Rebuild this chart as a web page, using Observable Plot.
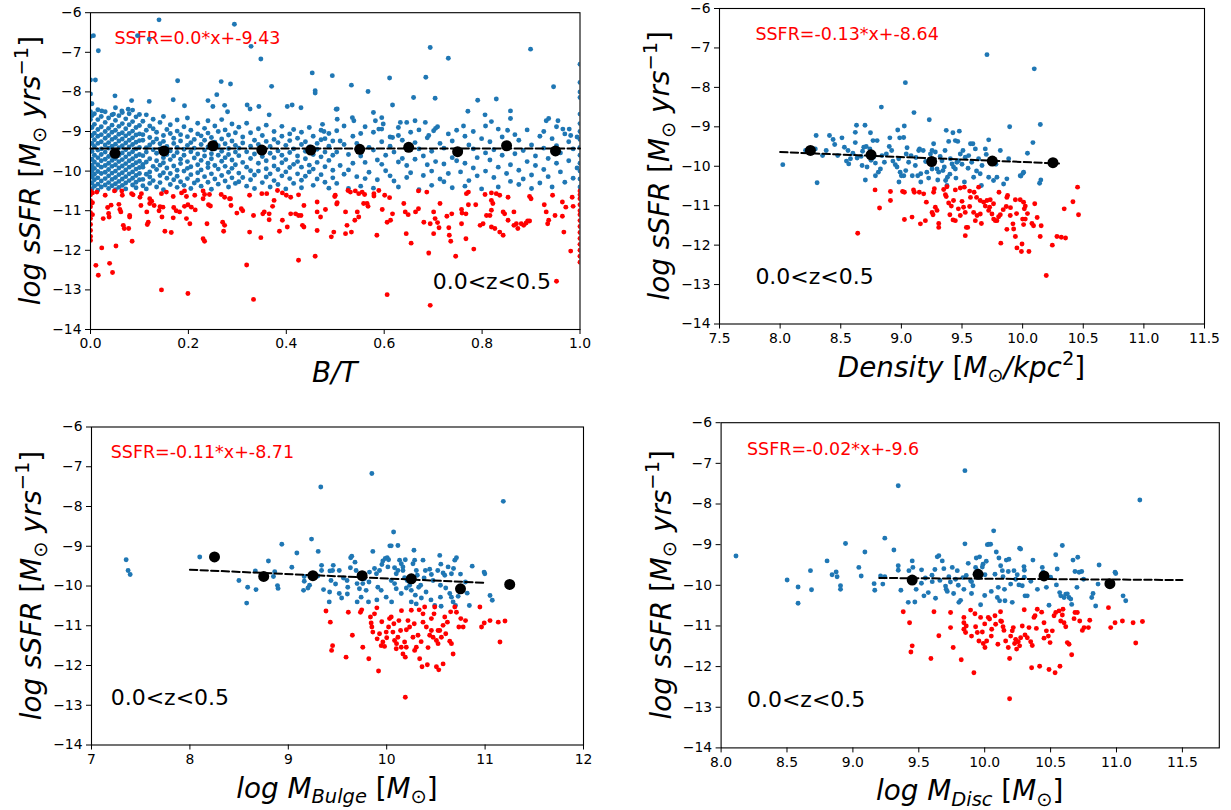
<!DOCTYPE html>
<html><head><meta charset="utf-8">
<script src="https://cdn.jsdelivr.net/npm/d3@7"></script>
<script src="https://cdn.jsdelivr.net/npm/@observablehq/plot@0.6"></script>
<style>
html,body{margin:0;padding:0;background:#fff;}
#root{position:relative;width:1231px;height:810px;overflow:hidden;font-family:"DejaVu Sans",sans-serif;}
.panel{position:absolute;}
#overlay{position:absolute;left:0;top:0;}
</style></head><body><div id="root"></div>
<script>
// ---------------- DATA ----------------
const yTicks = [-14,-13,-12,-11,-10,-9,-8,-7,-6];

// Panel 1 : B/T  (star forming = blue, columns [x, y1, y2, ...])
const bt_sf_cols = [
[0.0,-7.7,-8.05,-8.3,-8.5,-8.7,-8.9,-9.1,-9.3,-9.5,-9.7,-9.9,-10.1,-10.3,-10.45],
[0.003,-8.3,-8.6,-8.9,-9.1,-9.3,-9.5,-9.7,-9.85,-10.0,-10.15,-10.3,-10.45],
[0.008,-8.55,-8.82,-9.04,-9.21,-9.38,-9.6,-9.77,-9.93,-10.08,-10.22,-10.38],
[0.015,-8.45,-8.7,-8.95,-9.12,-9.3,-9.47,-9.66,-9.84,-10.01,-10.17,-10.33,-10.48],
[0.022,-8.62,-8.88,-9.08,-9.26,-9.44,-9.58,-9.74,-9.9,-10.06,-10.25,-10.4],
[0.03,-8.5,-8.77,-9.0,-9.17,-9.34,-9.52,-9.7,-9.86,-10.03,-10.19,-10.35],
[0.037,-8.66,-8.92,-9.1,-9.28,-9.42,-9.63,-9.8,-9.96,-10.12,-10.29,-10.44],
[0.044,-8.58,-8.84,-9.02,-9.2,-9.37,-9.55,-9.73,-9.88,-10.05,-10.21,-10.37],
[0.051,-8.4,-8.72,-8.97,-9.15,-9.32,-9.5,-9.68,-9.84,-10.0,-10.16,-10.32,-10.47],
[0.058,-8.6,-8.87,-9.07,-9.24,-9.41,-9.6,-9.76,-9.92,-10.09,-10.26,-10.41],
[0.065,-8.52,-8.8,-9.03,-9.19,-9.36,-9.54,-9.71,-9.87,-10.04,-10.2,-10.36],
[0.072,-8.68,-8.93,-9.11,-9.29,-9.46,-9.64,-9.81,-9.97,-10.14,-10.3,-10.45],
[0.079,-8.55,-8.83,-9.05,-9.22,-9.39,-9.57,-9.74,-9.9,-10.07,-10.24],
[0.086,-8.46,-8.75,-8.99,-9.16,-9.33,-9.51,-9.69,-9.85,-10.02,-10.18,-10.35],
[0.093,-8.63,-8.9,-9.09,-9.27,-9.44,-9.62,-9.79,-9.95,-10.11,-10.28,-10.42],
[0.1,-8.57,-8.85,-9.06,-9.23,-9.4,-9.58,-9.75,-9.91,-10.06,-10.22],
[0.107,-8.74,-9.08,-9.22,-9.61,-9.83,-9.9,-10.21,-10.37],
[0.114,-8.58,-8.97,-9.41,-9.52,-9.77,-10.08,-10.45],
[0.121,-8.86,-9.15,-9.34,-9.69,-10.02,-10.15,-10.31],
[0.128,-8.69,-8.93,-9.27,-9.46,-9.88,-10.24],
[0.135,-9.02,-9.19,-9.55,-9.74,-9.96,-10.4],
[0.142,-8.77,-9.31,-9.44,-9.85,-10.11,-10.29],
[0.149,-8.62,-9.1,-9.25,-9.66,-9.79,-10.04,-10.47],
[0.156,-8.95,-9.38,-9.58,-9.92,-10.18],
[0.163,-8.83,-9.05,-9.49,-9.71,-10.06,-10.34],
[0.17,-9.17,-9.3,-9.62,-9.87,-10.22],
[0.177,-8.71,-8.99,-9.4,-9.53,-9.98,-10.13,-10.41],
[0.184,-9.08,-9.24,-9.7,-9.81,-10.27],
[0.191,-8.88,-9.45,-9.6,-10.0,-10.36],
[0.198,-8.66,-9.13,-9.35,-9.76,-9.93,-10.19],
[0.205,-8.97,-9.28,-9.51,-9.89,-10.09,-10.44],
[0.212,-9.2,-9.42,-9.67,-10.3],
[0.219,-8.79,-9.06,-9.57,-9.84,-10.04,-10.23],
[0.226,-9.11,-9.33,-9.73,-9.97,-10.38],
[0.233,-8.92,-9.22,-9.47,-9.62,-10.14],
[0.24,-8.73,-9.04,-9.39,-9.8,-9.91,-10.28],
[0.247,-9.15,-9.56,-9.69,-10.07,-10.46],
[0.254,-8.86,-9.27,-9.44,-9.86,-10.2],
[0.261,-9.0,-9.36,-9.6,-9.95,-10.33],
[0.268,-8.7,-9.19,-9.5,-9.75,-10.11],
[0.275,-8.96,-9.31,-9.66,-9.88,-10.25],
[0.282,-9.09,-9.43,-9.58,-10.03,-10.4],
[0.289,-8.81,-9.24,-9.72,-9.93,-10.17],
[0.296,-9.03,-9.35,-9.52,-9.84,-10.31],
[0.303,-8.89,-9.42,-9.61,-10.05,-10.27],
[0.311,-9.14,-9.29,-9.78,-10.16],
[0.319,-8.79,-9.51,-9.9,-10.38],
[0.327,-9.03,-9.37,-9.68,-9.99,-10.22],
[0.335,-9.22,-9.57,-10.1,-10.44],
[0.343,-8.93,-9.33,-9.8,-10.0],
[0.351,-9.1,-9.46,-9.63,-10.29],
[0.359,-8.84,-9.25,-9.74,-9.94,-10.15],
[0.367,-9.38,-9.55,-10.07,-10.4],
[0.375,-9.0,-9.2,-9.66,-9.87,-10.24],
[0.383,-9.28,-9.49,-9.96,-10.34],
[0.391,-8.87,-9.12,-9.6,-9.79,-10.12],
[0.399,-9.35,-9.71,-10.02,-10.45],
[0.407,-9.06,-9.23,-9.53,-9.91,-10.19],
[0.415,-8.95,-9.44,-9.83,-10.31],
[0.423,-9.17,-9.62,-9.76,-10.07],
[0.431,-9.02,-9.33,-9.9,-10.23,-10.42],
[0.439,-9.26,-9.5,-9.69,-10.13],
[0.447,-8.9,-9.39,-9.85,-10.02],
[0.455,-9.12,-9.58,-9.95,-10.36],
[0.463,-9.3,-9.45,-9.78,-10.2],
[0.471,-8.97,-9.21,-9.64,-10.09],
[0.479,-9.18,-9.52,-9.89,-10.28],
[0.487,-9.05,-9.37,-9.73,-10.43],
[0.495,-9.24,-9.6,-9.98,-10.17],
[0.503,-8.98,-9.52,-10.31],
[0.51,-9.24,-9.86],
[0.518,-8.86,-9.33,-10.08],
[0.527,-9.58,-9.97,-10.44],
[0.536,-9.12,-9.8],
[0.544,-9.3,-10.14],
[0.552,-9.05,-9.62,-10.38],
[0.561,-8.88,-9.78,-10.19],
[0.569,-9.4,-10.03],
[0.578,-9.02,-9.47,-10.43],
[0.586,-9.72,-10.22],
[0.595,-8.94,-9.26,-9.83],
[0.603,-9.6,-9.99],
[0.612,-9.14,-9.37,-10.12],
[0.62,-9.52,-10.25],
[0.629,-8.9,-9.77,-10.4],
[0.637,-9.22,-9.68],
[0.646,-9.35,-9.86,-10.16],
[0.654,-9.02,-10.04],
[0.663,-9.28,-9.7],
[0.671,-8.96,-9.44,-10.47],
[0.68,-9.62,-10.11],
[0.688,-9.16,-9.84],
[0.697,-9.5,-10.0,-10.36],
[0.705,-8.92,-9.76],
[0.714,-9.3,-10.2],
[0.722,-9.42,-9.82,-10.27],
[0.731,-9.06,-10.06],
[0.739,-9.24,-9.66,-10.42],
[0.748,-8.97,-9.74],
[0.756,-9.48,-10.02],
[0.765,-9.12,-9.8,-10.38],
[0.773,-9.34,-10.24],
[0.782,-9.0,-9.44,-9.92],
[0.79,-9.66,-10.12],
[0.799,-9.18,-10.45],
[0.807,-8.86,-9.54,-10.0],
[0.816,-9.26,-9.72],
[0.824,-9.46,-10.16],
[0.833,-8.94,-9.9,-10.4],
[0.841,-9.14,-9.6],
[0.85,-9.4,-10.06],
[0.858,-9.84,-10.26],
[0.867,-9.08,-9.56],
[0.875,-9.22,-9.98,-10.34],
[0.884,-9.48,-10.2],
[0.892,-8.96,-9.76],
[0.901,-9.34,-10.1,-10.44],
[0.909,-9.62,-9.86],
[0.918,-9.12,-10.3],
[0.926,-9.0,-9.42,-9.96],
[0.935,-9.68,-10.14],
[0.943,-9.18,-10.4],
[0.952,-8.88,-9.36,-9.8],
[0.96,-9.54,-10.02],
[0.969,-9.06,-10.28],
[0.977,-9.26,-9.74],
[0.986,-9.44,-10.18],
[0.994,-9.14,-9.92],
[1.0,-7.3,-7.76,-8.0,-8.14,-8.56,-8.8,-9.0,-9.2,-9.4,-9.6,-9.8,-10.0,-10.2,-10.4]
];
const bt_sf_pts = [
[0.0,-6.6],[0.006,-6.58],[0.016,-6.96],[0.14,-6.18],[0.096,-6.58],[0.12,-6.67],[0.294,-6.29],[0.328,-6.85],[0.348,-7.17],[0.01,-7.7],[0.178,-7.72],[0.267,-7.74],[0.286,-7.8],[0.37,-7.86],[0.453,-7.52],[0.459,-7.97],[0.459,-8.03],[0.05,-8.1],[0.084,-8.22],[0.12,-8.24],[0.169,-8.2],[0.192,-8.35],[0.24,-8.22],[0.258,-8.07],[0.25,-8.37],[0.274,-8.34],[0.28,-8.5],[0.32,-8.33],[0.326,-8.43],[0.344,-8.37],[0.365,-8.58],[0.402,-8.37],[0.412,-8.33],[0.43,-8.4],[0.474,-8.82],[0.477,-9.0],[0.502,-8.44],[0.023,-8.48],[0.047,-8.56],[0.064,-8.48],[0.077,-8.44],
[0.494,-7.59],[0.504,-8.43],[0.533,-7.83],[0.567,-7.99],[0.578,-8.52],[0.595,-8.65],[0.598,-8.81],[0.611,-7.65],[0.617,-8.33],[0.633,-8.77],[0.646,-8.77],[0.66,-8.14],[0.663,-8.73],[0.685,-7.63],[0.694,-6.88],[0.704,-8.16],[0.709,-8.88],[0.731,-7.15],[0.762,-8.86],[0.771,-8.49],[0.791,-8.21],[0.806,-8.58],[0.819,-8.75],[0.829,-8.18],[0.852,-8.97],[0.858,-8.48],[0.858,-8.67],[0.899,-6.92],[0.931,-8.73],[0.936,-8.67],[0.946,-7.87],[0.955,-8.73],[0.965,-8.94],[0.978,-8.94],[0.981,-9.1],[0.535,-8.65],[0.538,-8.73],[0.504,-8.69],[0.582,-8.73],[0.589,-8.94],[0.617,-9.15],[0.629,-9.1],[0.684,-8.77],[0.691,-9.1],[0.701,-8.98]
];
const bt_q = [
[0.0,-10.5],[0.0,-10.6],[0.0,-10.75],[0.0,-10.9],[0.0,-11.05],[0.0,-11.2],[0.0,-11.35],[0.0,-11.5],[0.0,-11.65],[0.0,-11.75],[0.004,-10.55],[0.004,-10.8],[0.004,-11.1],
[0.013,-10.53],[0.03,-10.61],[0.049,-10.5],[0.064,-10.5],[0.065,-10.61],[0.084,-10.57],[0.087,-10.6],[0.101,-10.66],[0.104,-10.57],[0.121,-10.7],[0.125,-10.76],[0.145,-10.57],[0.155,-10.53],[0.169,-10.64],[0.186,-10.55],[0.192,-10.5],[0.196,-10.64],[0.213,-10.61],[0.23,-10.5],[0.233,-10.59],[0.243,-10.59],[0.23,-10.7],[0.267,-10.59],[0.274,-10.66],[0.284,-10.7],[0.325,-10.61],[0.36,-10.57],[0.382,-10.49],[0.392,-10.55],[0.409,-10.66],[0.425,-10.6],[0.463,-10.78],[0.499,-10.64],[0.503,-10.83],
[0.035,-10.92],[0.042,-10.86],[0.058,-10.84],[0.06,-10.97],[0.062,-11.03],[0.037,-11.07],[0.038,-11.16],[0.026,-11.2],[0.067,-11.37],[0.069,-11.45],[0.078,-11.45],[0.08,-11.12],[0.08,-11.16],[0.103,-10.87],[0.121,-10.82],[0.13,-10.87],[0.142,-10.9],[0.148,-10.91],[0.115,-11.03],[0.118,-11.29],[0.116,-11.35],[0.14,-11.0],[0.146,-11.16],[0.152,-11.52],[0.165,-11.55],[0.17,-10.92],[0.175,-11.0],[0.182,-11.03],[0.169,-11.18],[0.192,-10.89],[0.199,-10.85],[0.206,-10.91],[0.196,-11.2],[0.203,-11.33],[0.214,-10.98],[0.23,-11.71],[0.233,-11.77],[0.238,-11.33],[0.241,-10.85],[0.245,-10.88],[0.27,-11.29],[0.274,-11.37],[0.272,-11.52],[0.287,-10.87],[0.286,-10.7],[0.299,-11.06],[0.308,-10.95],[0.311,-11.0],[0.325,-11.54],[0.333,-11.12],[0.348,-11.68],[0.352,-11.08],[0.355,-11.03],[0.365,-11.08],[0.365,-11.23],[0.372,-10.89],[0.375,-10.74],[0.392,-11.24],[0.402,-11.41],[0.409,-11.08],[0.419,-11.08],[0.425,-11.12],[0.43,-11.12],[0.433,-11.37],[0.436,-11.41],[0.436,-10.87],[0.463,-11.03],[0.47,-11.16],[0.463,-11.5],[0.48,-10.97],[0.492,-11.66],[0.497,-11.54],[0.4,-10.61],[0.386,-11.52],[0.35,-10.57],
[0.023,-11.94],[0.011,-12.38],[0.016,-12.63],[0.039,-12.33],[0.045,-12.56],[0.052,-11.89],[0.085,-11.77],[0.145,-13.0],[0.199,-13.09],[0.319,-12.37],[0.333,-13.24],[0.425,-12.25],[0.459,-12.15],
[0.5,-10.61],[0.504,-10.8],[0.521,-11.03],[0.524,-11.37],[0.521,-11.58],[0.533,-11.54],[0.526,-10.49],[0.531,-10.53],[0.541,-10.5],[0.548,-10.57],[0.54,-11.24],[0.545,-11.03],[0.548,-11.16],[0.555,-10.53],[0.56,-10.59],[0.558,-10.82],[0.565,-10.82],[0.567,-10.89],[0.579,-10.57],[0.579,-10.63],[0.585,-11.62],[0.589,-10.49],[0.596,-10.97],[0.601,-10.61],[0.606,-11.29],[0.611,-10.67],[0.613,-11.24],[0.617,-11.08],[0.606,-13.12],[0.64,-10.82],[0.643,-11.03],[0.645,-11.58],[0.649,-11.1],[0.655,-11.82],[0.664,-11.03],[0.67,-10.95],[0.67,-10.5],[0.687,-10.53],[0.681,-11.29],[0.691,-12.07],[0.694,-11.33],[0.694,-13.39],[0.701,-11.03],[0.704,-11.2],[0.709,-11.3],[0.712,-11.43],[0.701,-11.58],[0.714,-10.82],[0.728,-11.14],[0.732,-11.43],[0.733,-11.62],[0.736,-11.77],[0.738,-11.08],[0.746,-12.15],[0.758,-10.97],[0.759,-11.06],[0.758,-11.33],[0.767,-11.71],[0.767,-11.08],[0.768,-10.57],[0.772,-10.53],[0.772,-10.85],[0.787,-10.85],[0.783,-11.97],[0.796,-11.37],[0.802,-11.33],[0.806,-10.59],[0.809,-11.12],[0.816,-11.12],[0.819,-10.55],[0.819,-10.74],[0.819,-10.99],[0.822,-10.82],[0.819,-11.41],[0.826,-11.45],[0.829,-10.57],[0.836,-10.61],[0.836,-11.54],[0.843,-11.62],[0.843,-11.03],[0.853,-10.66],[0.846,-11.08],[0.853,-11.24],[0.865,-11.37],[0.87,-11.33],[0.873,-11.45],[0.88,-11.33],[0.885,-11.37],[0.89,-11.31],[0.893,-11.26],[0.897,-11.26],[0.865,-11.03],[0.897,-10.64],[0.9,-10.7],[0.927,-10.85],[0.931,-11.03],[0.934,-11.33],[0.936,-11.24],[0.944,-10.61],[0.949,-11.12],[0.952,-12.78],[0.964,-10.78],[0.964,-11.14],[0.967,-11.54],[0.971,-10.91],[0.981,-12.02],[0.984,-10.66],[0.986,-10.89],
[1.0,-10.5],[1.0,-10.6],[1.0,-10.7],[1.0,-10.85],[1.0,-11.0],[1.0,-11.1],[1.0,-11.25],[1.0,-11.4],[1.0,-11.55],[1.0,-11.7],[1.0,-11.85],[1.0,-12.0],[1.0,-12.15],[1.0,-12.3]
];
const bt_binX = [0.05,0.15,0.25,0.35,0.45,0.55,0.65,0.75,0.85,0.95];
const bt_binY = [-9.55,-9.49,-9.36,-9.47,-9.47,-9.45,-9.40,-9.51,-9.36,-9.49];
const bt_fitX = [0.0,1.0];
const bt_fitY = [-9.43,-9.43];

// Panel 2 : Density
const dens_sf = [
[9.706,-7.17],[10.096,-7.53],[9.033,-7.88],[8.835,-8.5],[9.104,-8.64],[9.23,-8.82],[8.63,-8.96],[8.70,-8.96],[8.297,-9.22],[8.407,-9.22],[8.437,-9.32],[8.51,-9.28],[8.62,-9.14],[8.745,-9.15],[8.97,-9.08],[9.024,-8.98],[8.905,-9.28],[8.986,-9.28],[9.019,-9.27],[9.37,-9.09],[9.425,-9.15],[9.478,-9.11],[9.39,-9.37],[9.445,-9.35],[9.465,-9.37],[9.57,-9.43],[9.72,-9.33],[9.893,-9.0],[10.146,-8.94],[10.085,-9.4],[10.04,-9.67],[10.003,-10.18],[9.986,-10.25],[10.14,-10.43],[10.15,-10.35],[9.885,-9.81],[8.022,-9.96],[8.305,-10.42],[8.21,-9.6],[8.29,-9.56],[8.35,-9.73],[8.38,-9.6],[8.475,-9.73],
[8.53,-9.52],[8.547,-9.87],[8.566,-9.94],[8.58,-9.81],[8.60,-9.67],[8.635,-9.79],[8.668,-9.75],[8.676,-9.98],[8.69,-9.52],[8.71,-9.5],[8.717,-10.02],[8.74,-9.56],[8.766,-9.35],[8.80,-9.35],[8.703,-10.35],[8.786,-10.24],[8.81,-10.15],[8.827,-10.07],[8.77,-9.77],[8.786,-9.92],[8.84,-9.73],
[8.876,-9.69],[8.9,-9.5],[8.93,-9.87],[8.95,-9.96],[8.964,-10.02],[8.978,-9.81],[8.99,-10.15],[9.0,-10.24],[9.02,-10.24],[9.036,-10.11],[9.04,-9.69],[9.047,-9.53],[9.08,-9.73],[9.09,-10.24],[9.115,-9.98],[9.135,-10.24],[9.143,-9.6],[9.15,-9.56],[9.18,-9.6],[9.16,-10.19],
[9.21,-10.15],[9.225,-10.3],[9.24,-9.69],[9.253,-9.6],[9.266,-9.43],[9.28,-9.64],[9.253,-10.07],[9.294,-10.07],[9.308,-10.15],[9.335,-9.86],[9.343,-10.11],[9.354,-10.02],[9.365,-10.36],[9.376,-10.49],[9.38,-10.28],
[9.404,-9.81],[9.418,-9.94],[9.43,-10.02],[9.445,-10.07],[9.458,-9.9],[9.47,-9.86],[9.486,-9.69],[9.508,-9.6],[9.527,-9.77],[9.555,-9.73],[9.59,-9.43],[9.61,-9.56],[9.637,-9.81],[9.65,-10.19],[9.665,-9.98],[9.692,-9.56],[9.733,-9.87],[9.76,-10.36],[9.788,-10.28],[9.816,-9.6],[9.843,-10.45],[9.87,-10.32],[9.98,-10.24],[10.008,-10.15],[9.72,-10.28],[9.66,-10.49],[9.596,-10.28],
[8.45,-9.45],[8.56,-9.6],[8.62,-9.4],[8.68,-9.62],[8.75,-9.85],[8.86,-9.9],[8.92,-9.6],[9.06,-9.9],[9.12,-9.78],[9.2,-9.88],[9.32,-9.75],[9.36,-9.6],[9.5,-9.95],[9.55,-10.05],[9.58,-9.9],[9.7,-9.7],[9.62,-10.12],[9.4,-10.2],[9.3,-10.35],[9.16,-10.4],[8.98,-10.4],[9.52,-10.4],[9.78,-9.95],[9.45,-10.3]
];
const dens_q = [
[8.64,-11.7],[8.783,-10.6],[8.82,-11.06],[8.91,-10.64],[8.91,-10.87],[9.01,-10.64],[9.025,-10.66],[9.025,-11.35],[9.088,-11.29],[9.1,-10.6],[9.107,-10.66],[9.148,-10.66],[9.184,-10.7],[9.157,-11.46],[9.198,-11.38],[9.206,-10.91],[9.253,-11.17],[9.261,-11.23],[9.266,-10.66],[9.272,-10.57],[9.28,-11.04],[9.308,-11.45],[9.308,-11.55],[9.294,-11.12],[9.349,-10.59],[9.363,-10.72],[9.37,-10.77],[9.376,-10.52],[9.39,-10.93],[9.412,-11.01],[9.426,-11.36],[9.445,-11.38],[9.445,-10.6],[9.486,-10.55],[9.5,-10.89],[9.519,-10.53],[9.527,-11.17],[9.536,-11.55],[9.547,-11.55],[9.563,-10.63],[9.563,-11.02],[9.527,-11.76],[9.596,-11.17],[9.61,-11.38],[9.624,-11.25],[9.651,-11.21],[9.66,-11.45],[9.637,-10.53],[9.679,-10.91],[9.692,-11.01],[9.706,-10.87],[9.733,-10.85],[9.728,-11.04],[9.747,-11.21],[9.761,-11.34],[9.775,-11.38],[9.788,-11.38],[9.802,-11.28],[9.816,-11.23],[9.805,-10.66],[9.87,-10.79],[9.876,-10.74],[9.82,-11.95],[9.87,-11.6],[9.865,-11.02],[9.898,-11.25],[9.92,-11.46],[9.926,-11.59],[9.94,-10.85],[9.98,-10.85],[10.008,-10.91],[10.022,-11.01],[10.014,-11.08],[10.0,-11.34],[10.022,-11.34],[10.008,-11.48],[9.94,-11.78],[9.953,-12.07],[9.995,-11.97],[9.99,-12.16],[10.052,-12.16],[10.077,-11.45],[10.09,-11.51],[10.153,-11.51],[10.145,-11.78],[10.245,-12.0],[10.195,-12.77],[10.283,-11.78],[10.319,-11.8],[10.354,-11.82],[10.343,-11.08],[10.415,-10.9],[10.453,-10.53],[10.461,-11.23],[9.4,-11.23],[9.43,-10.87],[9.47,-11.08],[9.486,-11.25],[9.513,-11.04],[9.6,-10.66],[9.57,-10.79],[9.62,-10.79],[9.65,-10.87],[9.72,-11.12],[9.76,-10.95],[9.84,-11.1],[9.9,-11.05],[9.95,-11.2],[10.04,-11.2],[10.1,-10.95],[10.12,-11.3]
];
const dens_binX = [8.25,8.75,9.25,9.75,10.25];
const dens_binY = [-9.60,-9.71,-9.88,-9.87,-9.91];
const dens_fitX = [8.0,10.3];
const dens_fitY = [-9.64,-9.93];

// Panel 3 : Bulge mass
const bulge_sf = [
[7.352,-9.34],[7.372,-9.61],[7.393,-9.71],[8.1,-9.27],[8.498,-9.86],[8.577,-10.43],[8.587,-10.03],[8.672,-10.09],[8.665,-9.62],[8.798,-9.37],[8.862,-9.64],[8.89,-9.99],[8.896,-10.06],[8.849,-9.76],[8.934,-8.95],[9.036,-9.53],[9.087,-9.17],[9.162,-9.88],[9.155,-10.11],[9.216,-9.98],[9.162,-9.76],[9.236,-8.82],[9.304,-9.13],[9.338,-9.48],[9.338,-9.61],[9.358,-10.09],[9.416,-10.4],[9.434,-9.86],[9.423,-9.62],[9.45,-9.61],[9.518,-9.61],[9.457,-9.48],[9.518,-10.19],[9.542,-10.3],[9.604,-10.03],[9.597,-9.86],[9.631,-9.54],[9.634,-9.29],[9.645,-9.25],[9.678,-9.4],[9.689,-9.61],[9.699,-9.94],[9.723,-10.07],[9.74,-10.28],[9.757,-9.94],[9.774,-9.82],[9.791,-10.11],[9.815,-10.4],[9.825,-9.65],[9.849,-7.17],[9.859,-9.13],[9.876,-9.56],[9.896,-9.69],[9.91,-10.03],[9.927,-9.61],[9.951,-9.46],[9.961,-9.37],[9.985,-9.31],[10.005,-9.29],[10.012,-9.52],[10.019,-9.34],[10.032,-8.99],[10.046,-8.99],[10.07,-8.64],[10.08,-9.54],[10.097,-9.69],[10.114,-9.61],[10.08,-9.94],[10.097,-10.07],[10.046,-9.86],[10.114,-8.98],[10.131,-9.35],[10.148,-9.44],[10.165,-9.52],[10.165,-9.61],[10.182,-9.79],[10.189,-9.34],[10.209,-9.86],[10.233,-9.98],[10.25,-10.11],[10.267,-9.44],[10.277,-9.1],[10.284,-9.35],[10.291,-10.23],[10.301,-9.61],[10.311,-9.73],[10.325,-10.03],[10.345,-9.98],[10.369,-9.35],[10.393,-9.61],[10.437,-9.58],[10.454,-9.71],[10.471,-9.86],[10.539,-9.23],[10.573,-9.67],[10.546,-9.98],[10.59,-9.73],[10.624,-9.52],[10.658,-9.69],[10.679,-9.56],[10.692,-9.35],[10.709,-9.29],[10.641,-10.19],[10.658,-10.28],[10.675,-10.4],[10.699,-10.49],[10.726,-10.26],[10.519,-9.61],[10.546,-10.28],[10.553,-10.51],[10.488,-10.49],[10.352,-10.3],[10.25,-10.4],[10.148,-10.19],[9.995,-10.28],[9.944,-10.11],[10.818,-10.18],[10.84,-10.49],[10.869,-9.5],[10.99,-9.65],[10.997,-9.69],[11.05,-10.24],[11.073,-10.36],[11.185,-7.87],[9.33,-7.51],
[9.3,-9.75],[9.48,-9.95],[9.56,-9.8],[9.6,-10.2],[9.7,-10.4],[9.9,-10.35],[10.05,-10.4],[10.2,-10.05],[10.4,-10.15],[10.45,-10.35],[10.6,-10.05],[10.8,-9.9],[9.82,-9.9],[10.38,-9.8],[10.55,-9.45],[10.75,-9.7],[9.2,-10.05],[9.42,-10.15],[10.3,-10.45]
];
const bulge_q = [
[9.383,-10.63],[9.427,-10.91],[9.45,-11.5],[9.44,-11.62],[9.587,-11.79],[9.61,-10.66],[9.651,-11.24],[9.733,-10.66],[9.746,-10.6],[9.757,-11.54],[9.818,-11.83],[9.835,-10.78],[9.842,-10.93],[9.849,-11.03],[9.859,-11.16],[9.876,-10.7],[9.903,-11.33],[9.917,-12.14],[9.927,-11.2],[9.944,-11.5],[9.961,-11.41],[9.978,-11.52],[9.995,-11.16],[10.019,-11.03],[10.029,-10.82],[10.046,-10.78],[10.063,-11.16],[10.073,-10.95],[10.08,-11.37],[10.097,-11.58],[10.114,-11.29],[10.124,-10.87],[10.141,-11.12],[10.148,-11.54],[10.165,-11.71],[10.182,-11.41],[10.189,-11.79],[10.199,-11.54],[10.189,-12.8],[10.216,-10.87],[10.233,-11.03],[10.25,-10.61],[10.267,-11.29],[10.284,-11.62],[10.301,-11.54],[10.318,-11.24],[10.335,-11.83],[10.359,-12.03],[10.413,-11.98],[10.369,-10.7],[10.386,-10.53],[10.403,-11.03],[10.437,-11.24],[10.454,-11.12],[10.471,-11.29],[10.481,-10.7],[10.488,-10.53],[10.505,-11.37],[10.522,-11.45],[10.539,-11.12],[10.556,-11.29],[10.573,-10.99],[10.59,-10.78],[10.617,-10.91],[10.641,-11.39],[10.658,-11.45],[10.675,-11.71],[10.692,-10.53],[10.709,-10.66],[10.733,-11.03],[10.753,-10.82],[10.777,-11.03],[10.801,-10.87],[10.505,-12.03],[10.529,-12.11],[10.573,-11.96],[10.522,-11.12],[10.454,-10.82],[10.369,-10.91],[10.947,-10.53],[10.964,-11.03],[10.991,-10.93],[11.05,-10.87],[11.134,-10.91],[11.202,-10.88],[11.151,-11.41],
[9.95,-10.9],[10.0,-11.3],[10.1,-11.45],[10.2,-11.1],[10.28,-10.95],[10.35,-11.4],[10.42,-11.55],[10.6,-11.2],[10.65,-10.65],[10.15,-10.62],[9.9,-10.55],[10.33,-10.6]
];
const bulge_binX = [8.25,8.75,9.25,9.75,10.25,10.75,11.25];
const bulge_binY = [-9.27,-9.76,-9.74,-9.74,-9.82,-10.07,-9.96];
const bulge_fitX = [8.0,11.0];
const bulge_fitY = [-9.59,-9.92];

// Panel 4 : Disc mass
const disc_sf = [
[8.113,-9.28],[8.501,-9.87],[8.584,-10.04],[8.584,-10.44],[8.678,-9.64],[8.686,-10.11],[8.804,-9.4],[8.842,-9.74],[8.873,-9.67],[8.88,-9.79],[8.906,-10.01],[8.906,-10.1],[8.944,-8.97],[9.045,-9.56],[9.063,-9.77],[9.091,-9.18],[9.161,-9.96],[9.166,-10.12],[9.21,-9.77],[9.227,-9.97],[9.242,-9.79],[9.242,-8.84],[9.311,-9.13],[9.344,-7.55],[9.344,-9.52],[9.344,-9.63],[9.364,-10.12],[9.42,-10.42],[9.425,-9.64],[9.45,-9.4],[9.455,-9.56],[9.47,-10.41],[9.521,-9.62],[9.539,-10.26],[9.572,-10.18],[9.602,-9.91],[9.622,-9.61],[9.627,-10.32],[9.64,-9.3],[9.652,-9.27],[9.678,-9.4],[9.69,-9.59],[9.703,-10.02],[9.708,-10.1],[9.716,-10.15],[9.728,-9.79],[9.754,-9.56],[9.764,-10.2],[9.779,-9.85],[9.792,-9.64],[9.804,-10.42],[9.817,-10.37],[9.835,-9.81],[9.842,-10.1],[9.85,-8.98],[9.86,-9.76],[9.875,-9.46],[9.893,-9.89],[9.9,-9.91],[9.911,-10.01],[9.85,-7.18],[9.931,-9.56],[9.936,-9.33],[9.944,-9.64],[9.961,-9.3],[9.969,-10.48],[9.982,-9.55],[9.987,-9.48],[10.002,-9.74],[10.012,-9.41],[10.02,-9.0],[10.032,-8.99],[10.045,-8.99],[10.068,-8.66],[10.078,-9.73],[10.088,-9.18],[10.096,-10.3],[10.103,-10.05],[10.108,-9.33],[10.113,-10.38],[10.121,-9.52],[10.134,-9.64],[10.139,-9.79],[10.154,-10.38],[10.164,-9.38],[10.179,-9.66],[10.184,-9.36],[10.197,-9.97],[10.209,-10.42],[10.222,-9.64],[10.235,-9.85],[10.247,-9.74],[10.26,-9.99],[10.265,-9.09],[10.273,-9.11],[10.285,-10.01],[10.298,-9.54],[10.301,-9.63],[10.306,-10.26],[10.323,-10.26],[10.366,-9.38],[10.437,-9.56],[10.442,-9.68],[10.468,-10.05],[10.539,-9.25],[10.544,-9.99],[10.569,-10.18],[10.577,-10.26],[10.589,-9.02],[10.602,-10.3],[10.615,-10.22],[10.627,-10.21],[10.64,-10.3],[10.653,-10.34],[10.66,-10.47],[10.67,-9.38],[10.685,-9.66],[10.706,-9.31],[10.716,-9.68],[10.736,-9.66],[10.812,-10.3],[10.822,-10.2],[10.842,-10.51],[10.86,-9.97],[10.868,-9.5],[10.989,-9.68],[10.994,-9.71],[11.05,-10.26],[11.07,-10.38],[11.177,-7.9],[10.488,-10.49],
[9.6,-9.75],[9.66,-9.88],[9.74,-9.92],[9.8,-10.0],[9.52,-9.95],[9.48,-10.1],[9.55,-9.82],[10.05,-10.15],[10.15,-10.1],[10.35,-9.9],[10.4,-10.1],[10.5,-9.8],[10.55,-9.6],[10.7,-10.05],[10.75,-9.85],[10.3,-9.8],[10.0,-10.25],[9.9,-10.2]
];
const disc_q = [
[9.382,-10.65],[9.43,-10.92],[9.45,-11.49],[9.44,-11.64],[9.592,-11.8],[9.615,-10.65],[9.652,-11.24],[9.741,-10.67],[9.741,-11.04],[9.761,-11.53],[9.822,-11.83],[9.842,-10.79],[9.842,-10.92],[9.842,-11.08],[9.855,-11.16],[9.86,-11.0],[9.893,-10.61],[9.926,-10.7],[9.931,-11.02],[9.944,-11.16],[9.956,-11.37],[9.969,-10.79],[9.982,-11.15],[9.989,-11.43],[10.002,-11.53],[10.015,-11.37],[10.027,-10.79],[10.037,-10.83],[10.053,-11.08],[10.078,-10.75],[10.083,-10.96],[9.918,-12.15],[10.121,-10.88],[10.128,-10.89],[10.139,-11.02],[10.146,-11.11],[10.159,-11.37],[10.179,-11.53],[10.189,-11.8],[10.197,-11.25],[10.209,-11.12],[10.217,-11.04],[10.227,-11.43],[10.235,-11.33],[10.242,-11.57],[10.255,-11.39],[10.265,-11.49],[10.273,-11.29],[10.285,-11.0],[10.306,-11.22],[10.323,-11.29],[10.336,-11.04],[10.349,-11.39],[10.361,-11.48],[10.374,-10.79],[10.382,-10.75],[10.392,-11.06],[10.189,-12.79],[10.356,-12.03],[10.417,-11.99],[10.488,-12.07],[10.534,-12.15],[10.571,-11.99],[10.399,-10.59],[10.432,-10.66],[10.45,-10.92],[10.468,-11.12],[10.483,-11.25],[10.496,-11.41],[10.513,-11.12],[10.526,-10.75],[10.539,-10.67],[10.564,-10.63],[10.577,-10.88],[10.589,-10.73],[10.594,-10.59],[10.602,-10.92],[10.615,-11.02],[10.627,-11.41],[10.64,-11.45],[10.66,-11.71],[10.678,-10.82],[10.685,-10.67],[10.703,-10.67],[10.721,-10.88],[10.741,-11.11],[10.754,-11.04],[10.787,-11.04],[10.797,-10.86],[10.939,-10.55],[10.956,-11.04],[10.989,-10.92],[11.045,-10.88],[11.126,-10.92],[11.197,-10.89],[11.146,-11.42],
[10.05,-11.25],[10.1,-11.45],[10.12,-10.65],[10.3,-10.6],[10.45,-11.3],[9.9,-11.25],[10.0,-10.95]
];
const disc_binX = [9.45,9.95,10.45,10.95];
const disc_binY = [-9.87,-9.73,-9.77,-9.96];
const disc_fitX = [9.2,11.5];
const disc_fitY = [-9.82,-9.87];

// Texts
const eqTexts = ["SSFR=0.0*x+-9.43","SSFR=-0.13*x+-8.64","SSFR=-0.11*x+-8.71","SSFR=-0.02*x+-9.6"];
const zText = "0.0<z<0.5";
const yLabelParts = [["log sSFR ","i"],["[","n"],["M","i"],["\u2299","sub"],[" yrs","i"],["\u22121","sup"],["]","n"]];
const xLabelParts = [
  [["B/T","i"]],
  [["Density ","i"],["[","n"],["M","i"],["\u2299","sub"],["/kpc","i"],["2","sup"],["]","n"]],
  [["log M","i"],["Bulge","subi"],[" [","n"],["M","i"],["\u2299","sub"],["]","n"]],
  [["log M","i"],["Disc","subi"],[" [","n"],["M","i"],["\u2299","sub"],["]","n"]]
];

// ---------------- BUILD ----------------
function expandCols(cols){const out=[];for(const c of cols){for(let i=1;i<c.length;i++)out.push([c[0],c[i]]);}return out;}
const zip=(xs,ys)=>xs.map((x,i)=>[x,ys[i]]);

const panels = [
  {left:0,top:0,w:600,h:400,m:[12.2,20.5,71,90],xdom:[0,1],xticks:[0,0.2,0.4,0.6,0.8,1.0],xfmt:".1f",
   sf:expandCols(bt_sf_cols).concat(bt_sf_pts),q:bt_q,bins:zip(bt_binX,bt_binY),fit:zip(bt_fitX,bt_fitY),eqX:0.05,zX:0.7},
  {left:615,top:0,w:616,h:400,m:[8,27,76.5,104],xdom:[7.5,11.5],xticks:[7.5,8,8.5,9,9.5,10,10.5,11,11.5],xfmt:".1f",
   sf:dens_sf,q:dens_q,bins:zip(dens_binX,dens_binY),fit:zip(dens_fitX,dens_fitY),eqX:7.8,zX:7.8},
  {left:0,top:400,w:600,h:410,m:[26.5,17,65.5,91],xdom:[7,12],xticks:[7,8,9,10,11,12],xfmt:"d",
   sf:bulge_sf,q:bulge_q,bins:zip(bulge_binX,bulge_binY),fit:zip(bulge_fitX,bulge_fitY),eqX:7.2,zX:7.2},
  {left:615,top:400,w:616,h:410,m:[22.2,12.2,62.6,105.6],xdom:[8,11.78],xticks:[8,8.5,9,9.5,10,10.5,11,11.5],xfmt:".1f",
   sf:disc_sf,q:disc_q,bins:zip(disc_binX,disc_binY),fit:zip(disc_fitX,disc_fitY),eqX:8.2,zX:8.2}
];

const root = document.getElementById("root");
const overlay = d3.select(root).append("svg").attr("id","overlay").attr("width",1231).attr("height",810)
  .style("font-family","'DejaVu Sans', sans-serif");

function richText(g, parts, fs){
  const t = g.append("text").attr("font-size",fs).attr("fill","black");
  let shift = 0;
  for(const [s,k] of parts){
    const ts = t.append("tspan").text(s);
    let target = 0, size = fs, italic = false;
    if(k==="i"){italic=true;}
    else if(k==="sub"){target = fs*0.2; size = fs*0.7;}
    else if(k==="subi"){target = fs*0.2; size = fs*0.7; italic=true;}
    else if(k==="sup"){target = -fs*0.42; size = fs*0.7;}
    ts.attr("font-size",size).attr("font-style",italic?"italic":"normal");
    if(target!==shift){ts.attr("dy",target-shift); shift = target;}
  }
  return t;
}

panels.forEach((p,i)=>{
  const [mt,mr,mb,ml] = p.m;
  const fmt = d3.format(p.xfmt);
  const chart = Plot.plot({
    width:p.w, height:p.h, marginTop:mt, marginRight:mr, marginBottom:mb, marginLeft:ml,
    x:{domain:p.xdom}, y:{domain:[-14,-6]},
    style:{fontFamily:"'DejaVu Sans', sans-serif", fontSize:"13.9px", background:"transparent", overflow:"visible", color:"black"},
    marks:[
      Plot.dot(p.sf,{x:d=>d[0],y:d=>d[1],r:2.45,fill:"#1f77b4",clip:true}),
      Plot.dot(p.q,{x:d=>d[0],y:d=>d[1],r:2.45,fill:"#ff0000",clip:true}),
      Plot.line(p.fit,{x:d=>d[0],y:d=>d[1],stroke:"black",strokeWidth:2,strokeDasharray:"7.4,3.2"}),
      Plot.dot(p.bins,{x:d=>d[0],y:d=>d[1],r:5.5,fill:"black"}),
      Plot.frame({stroke:"black",strokeWidth:1.1}),
      Plot.axisX({ticks:p.xticks,tickFormat:d=>fmt(d),tickSize:5,tickPadding:4,label:null}),
      Plot.axisY({ticks:yTicks,tickFormat:d=>d3.format("d")(d),tickSize:5,tickPadding:4,label:null})
    ]
  });
  const div = document.createElement("div");
  div.className="panel"; div.style.left=p.left+"px"; div.style.top=p.top+"px";
  div.appendChild(chart); root.appendChild(div);

  const sx = chart.scale("x"), sy = chart.scale("y");
  overlay.append("text").attr("x",p.left+sx.apply(p.eqX)).attr("y",p.top+sy.apply(-6.8))
    .attr("font-size",17.5).attr("fill","#ff0000").text(eqTexts[i]);
  overlay.append("text").attr("x",p.left+sx.apply(p.zX)).attr("y",p.top+sy.apply(-13.0))
    .attr("font-size",22).attr("fill","black").text(zText);
  const plotTop = p.top+mt, plotBottom = p.top+p.h-mb;
  const yl = overlay.append("g").attr("transform",`translate(${p.left+ml-50},${(plotTop+plotBottom)/2}) rotate(-90)`);
  richText(yl, yLabelParts, 27.8).attr("text-anchor","middle");
  const xl = overlay.append("g").attr("transform",`translate(${p.left+(ml+p.w-mr)/2},${plotBottom+53})`);
  richText(xl, xLabelParts[i], 27.8).attr("text-anchor","middle");
});
</script></body></html>
